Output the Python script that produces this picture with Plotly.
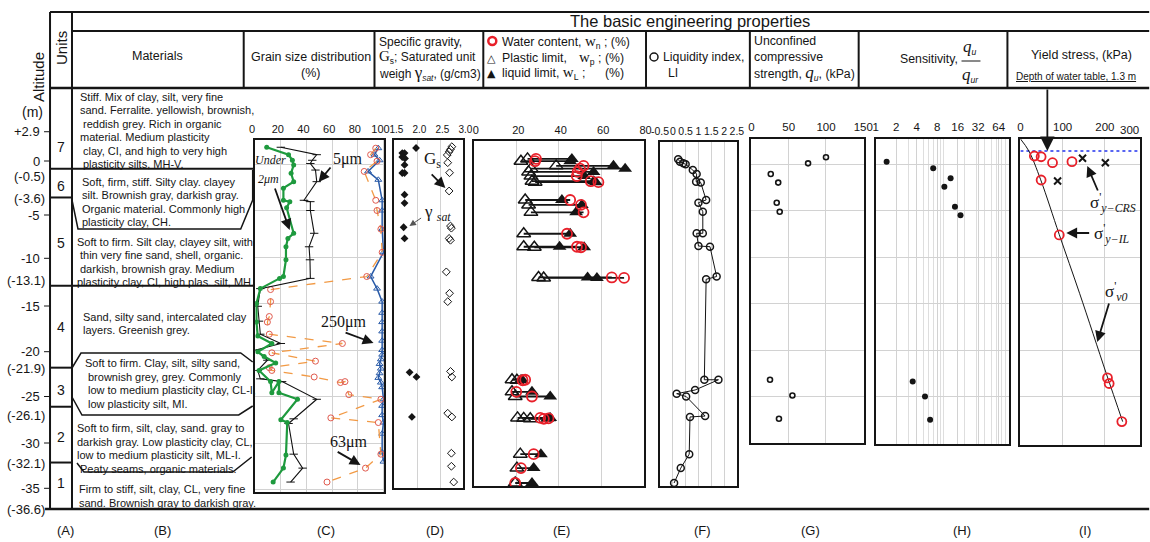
import math
import plotly.graph_objects as go

# ---------------------------------------------------------------------------
# Data (altitude in m, values read per layer)
# ---------------------------------------------------------------------------
# (C) grain size distribution, % finer than the given size
clay2_alt = [1.8, 1.0, 0.4, -0.1, -1.0, -1.9, -2.6, -3.9, -4.05, -4.7, -7.45, -8.0, -8.9, -10.3,
             -12.1, -12.3, -13.4, -15.0, -17.0, -18.5, -19.3, -20.2, -20.7, -21.4, -22.2, -23.4,
             -24.6, -23.4, -24.6, -25.3, -27.5, -27.8, -31.3, -32.7, -34.2]
clay2_pct = [9, 26, 29, 30, 28, 30, 22, 22, 27, 24.5, 30, 25.5, 24, 24,
             22, 19, 4, 1, 1, 2, 13, 2, 7, 16, 3, 12,
             13, 18.5, 18.5, 33, 20, 25, 24, 22, 14]
silt5_alt = [1.8, 1.0, 0.4, 0.05, -0.65, -1.9, -3.9, -4.05, -5.0, -7.45, -8.9, -10.3, -12.3,
             -13.4, -15.3, -16.9, -18.3, -19.3, -20.0, -21.1, -22.2, -23.1, -23.4, -25.3, -27.4,
             -27.9, -31.2, -32.7, -34.2]
silt5_pct = [20, 48, 44.5, 43, 47, 48, 38, 43, 43, 46, 42, 42.7, 43,
             4, 2, 3, 4, 20, 0.5, 9.5, 2, 4, 21, 48, 30,
             26, 30, 37, 27.6]
sand63_alt = [1.7, 1.0, 0.3, -0.8, -3.9, -5.0, -7.0, -9.5, -12.1, -13.5, -14.8, -16.4, -17.0,
              -18.3, -19.3, -20.3, -21.2, -21.9, -22.2, -22.9, -23.5, -23.4, -24.8, -25.3, -27.3,
              -27.8, -31.2, -32.7, -34.2]
sand63_pct = [94, 90, 95, 85, 94, 95, 98, 99, 87, 12, 12, 11, 9.5,
              11, 68, 13, 47, 11, 13, 46, 66.5, 70, 73, 98, 59,
              96, 98, 86, 56]
sand250_alt = [1.7, 1.0, 0.4, -0.8, -1.7, -3.9, -5.0, -7.0, -9.5, -12.1, -13.4, -14.8, -16.0,
               -17.0, -18.0, -19.0, -20.0, -20.5, -21.0, -21.5, -22.0, -22.5, -23.0, -23.5,
               -24.0, -25.3, -26.0, -27.0, -27.8, -29.0, -31.0, -32.0]
sand250_pct = [96, 93, 97, 88, 96, 99, 99, 99, 100, 90, 95, 99, 99,
               99, 99, 99, 99, 99, 98, 97, 98, 97, 96, 98,
               99, 100, 99, 99, 100, 99, 99, 100]

# (D) saturated unit weight (g/cm3) and specific gravity
gamma_alt = [1.72, 1.18, 1.18, 0.75, 0.6, -0.1, -0.97, -0.97, -3.3, -4.2, -6.8, -8.0, -22.4, -22.9, -27.2]
gamma_sat = [1.97, 1.67, 1.72, 1.67, 1.73, 1.72, 1.67, 1.72, 1.72, 1.72, 1.70, 1.72, 1.83, 1.98, 1.88]
gs_alt = [1.86, 1.58, 1.32, 0.97, 0.14, -0.94, -2.9, -6.67, -6.9, -8.0, -8.2, -11.6, -13.9, -14.8,
          -22.3, -22.9, -26.8, -27.2, -31.1, -32.5, -34.2]
gs_val = [2.75, 2.72, 2.69, 2.65, 2.66, 2.70, 2.69, 2.72, 2.74, 2.69, 2.72, 2.63, 2.70, 2.66,
          2.72, 2.75, 2.66, 2.75, 2.74, 2.74, 2.79]

# (E) Atterberg limits and natural water content (%)
atter_alt = [0.55, 0.30, -0.20, -0.50, -0.85, -1.30, -1.85, -1.95, -3.87, -4.40, -5.20, -7.50,
             -8.90, -8.95, -12.20, -12.25, -23.20, -23.25, -24.50, -25.00, -27.30, -27.35,
             -27.40, -31.20, -32.70, -34.30]
w_p = [25.3, 22.2, 38.8, 27.0, 25.8, 26.9, 27.4, 28.9, 24.2, 25.8, 26.9, 23.5,
       23.5, 28.5, 30.5, 32.9, 18.0, 20.3, 18.0, 19.5, 20.6, 23.5,
       26.6, 21.9, 20.3, 19.5]
w_n = [29.3, 28.8, 51.7, 50.0, 48.9, 48.5, 55.1, 58.7, 45.4, 50.5, 51.7, 43.9,
       48.6, 50.5, 65.0, 70.8, 24.2, 23.0, 20.0, 27.4, 31.3, 35.2,
       33.0, 28.2, 22.2, 19.5]
w_L = [46.2, 45.4, 65.8, 71.3, 56.4, 52.0, 56.5, 57.5, 41.5, 50.9, 48.2, 45.4,
       40.4, 52.0, 53.6, 58.0, 22.7, 22.0, 27.4, 36.0, 36.0, 35.5,
       34.5, 31.6, 28.2, 27.4]

# (F) liquidity index
li_alt = [0.5, 0.25, 0.07, -0.03, -0.65, -1.08, -1.9, -2.0, -3.87, -4.16, -5.13, -7.45, -7.45,
          -8.82, -8.89, -12.1, -12.4, -23.2, -23.2, -24.3, -24.7, -25.0, -27.1, -27.2, -31.2,
          -32.7, -34.3]
li_val = [0.21, 0.28, 0.41, 0.5, 0.78, 0.93, 0.91, 1.09, 1.30, 1.0, 1.17, 1.17, 0.93,
          1.0, 1.45, 1.71, 1.30, 1.23, 1.78, 0.87, 0.15, 0.52, 1.26, 0.67, 0.64,
          0.31, 0.05]

# (G) unconfined compressive strength (kPa)
qu_alt = [0.72, 0.07, -1.08, -2.0, -4.16, -5.13, -23.2, -24.9, -27.4]
qu_val = [100, 76, 26, 36, 34, 38, 25, 55, 37]

# (H) sensitivity
st_alt = [0.25, -0.46, -1.54, -2.44, -4.6, -5.5, -23.4, -25.0, -27.5]
st_val = [1.45, 7.0, 12.6, 10.2, 14.6, 17.6, 3.5, 5.3, 6.3]

# (I) yield stress and effective overburden (kPa)
il_alt = [0.86, 0.78, 0.14, 0.25, -1.72, -7.63, -23.0, -23.6, -27.7]
il_val = [33, 49, 76, 122, 49, 92, 206, 210, 240]
crs_alt = [0.61, 0.14, -1.83]
crs_val = [147, 201, 88]
sv0_alt = [2.7, 1.4, -1.7, -7.6, -13.9, -22.5, -27.7]
sv0_val = [0, 20, 48, 92, 140, 203, 242]
ground_alt = 2.7
water_table_depth = 1.3

# Stratigraphy
layer_bounds = [-0.5, -3.6, -13.1, -21.9, -26.1, -32.1]
layer_full = [True, False, True, False, False, False]
alt_ticks = [2.9, 0, -0.5, -3.6, -5, -10, -13.1, -15, -20, -21.9, -25, -26.1, -30, -32.1, -35, -36.6]
alt_text = ["+2.9", "0", "(-0.5)", "(-3.6)", "-5", "-10", "(-13.1)", "-15", "-20", "(-21.9)",
            "-25", "(-26.1)", "-30", "(-32.1)", "-35", "(-36.6)"]
unit_names = ["7", "6", "5", "4", "3", "2", "1"]
unit_text = [
    ["Stiff. Mix of clay, silt, very fine", "sand. Ferralite. yellowish, brownish,",
     " reddish grey. Rich in organic", "material. Medium plasticity",
     " clay, CI, and high to very high", " plasticity silts, MH-V."],
    ["Soft, firm, stiff. Silty clay. clayey", "silt. Brownish gray, darkish gray.",
     "Organic material. Commonly high", "plasticity clay, CH."],
    ["Soft to firm. Silt clay, clayey silt, with", " thin very fine sand, shell, organic.",
     " darkish, brownish gray. Medium", "plasticity clay, CI, high plas. silt, MH."],
    ["Sand, silty sand, intercalated clay", "layers. Greenish grey."],
    ["Soft to firm. Clay, silt, silty sand,", " brownish grey, grey. Commonly",
     " low to medium plasticity clay, CL-I,", " low plasticity silt, MI."],
    ["Soft to firm, silt, clay, sand. gray to", "darkish gray. Low plasticity clay, CL,",
     "low to medium plasticity silt, ML-I.", " Peaty seams, organic materials."],
    ["Firm to stiff, silt, clay, CL, very fine", "sand. Brownish gray to darkish gray."],
]
col_letters = ["(A)", "(B)", "(C)", "(D)", "(E)", "(F)", "(G)", "(H)", "(I)"]

# Axis tick labels
c_ticks = [0, 20, 40, 60, 80, 100]
d_ticks = [1.5, 2.0, 2.5, 3.0]
d_text = ["1.5", "2.0", "2.5", "3.0"]
e_ticks = [0, 20, 40, 60, 80]
f_ticks = [-0.5, 0, 0.5, 1, 1.5, 2, 2.5]
f_text = ["-0.5", "0", "0.5", "1", "1.5", "2", "2.5"]
g_ticks = [0, 50, 100, 150]
h_ticks = [1, 2, 4, 8, 16, 32, 64]
i_ticks = [0, 100, 200]
i_last_tick = "300"

# ---------------------------------------------------------------------------
# Geometry helpers
# ---------------------------------------------------------------------------
SANS = "Liberation Sans, Arial, sans-serif"
SERIF = "Liberation Serif, Times New Roman, serif"
INK = "#151515"
GRID = "#d2d2d2"
FIG_W, FIG_H = 1150, 542
PX_PER_M = 9.3      # vertical scale shared by the table and all panels
ALT0_PX = 164.0     # pixel row of altitude 0 m
X_SCALE, X_OFF = 0.986, 7.9   # horizontal layout frame of the page


def alt_of(ypx):
    return (ALT0_PX - ypx) / PX_PER_M


def fx(x):
    return (x - X_OFF) / X_SCALE / FIG_W


def fy(y):
    return 1 - y / FIG_H


fig = go.Figure()
layout_axes = {}


def add_panel(n, box, xrange, tickvals, ticktext, xtype="linear", vgrid=True, hgrid=(),
              minor=None, tick_size=11.5, shift=0):
    l, r, t, b = box
    d0, d1 = fx(l), fx(r)
    if d1 > 0.999 and xtype == "linear":
        xrange = [xrange[0], xrange[0] + (xrange[1] - xrange[0]) * (0.999 - d0) / (d1 - d0)]
        d1 = 0.999
    sid = "" if n == 1 else str(n)
    xa = dict(domain=[d0, d1], range=xrange, type=xtype, side="top", anchor="y" + sid,
              tickmode="array", tickvals=tickvals, ticktext=ticktext, ticks="", tickangle=0,
              showgrid=vgrid, gridcolor=GRID, gridwidth=1, zeroline=False,
              showline=True, mirror=True, linecolor=INK, linewidth=2,
              tickfont=dict(family=SANS, size=tick_size, color=INK), ticklabelstandoff=1,
              ticklabelshift=shift)
    if minor:
        xa["minor"] = minor
    ya = dict(domain=[fy(b), fy(t)], range=[alt_of(b), alt_of(t)], anchor="x" + sid,
              tickmode="array", tickvals=list(hgrid), showticklabels=False, ticks="",
              showgrid=bool(hgrid), gridcolor=GRID, gridwidth=1, zeroline=False,
              showline=True, mirror=True, linecolor=INK, linewidth=2)
    layout_axes["xaxis" + sid] = xa
    layout_axes["yaxis" + sid] = ya
    return "x" + sid, "y" + sid


grid5 = [0, -5, -10, -15, -20, -25, -30, -35]
xC, yC = add_panel(1, (254.5, 384, 140, 492), [0, 100.8], c_ticks, [str(v) for v in c_ticks],
                   hgrid=grid5, tick_size=11, shift=-3)
xD, yD = add_panel(2, (394, 463, 140, 488), [1.5, 3.0], d_ticks, d_text, tick_size=10, shift=2)
xE, yE = add_panel(3, (473.5, 644, 141, 486), [0, 80.2], e_ticks, [str(v) for v in e_ticks],
                   tick_size=11, shift=2)
xF, yF = add_panel(4, (660, 737, 142, 486), [-0.5, 2.5], f_ticks, f_text, tick_size=10.5)
xG, yG = add_panel(5, (751.5, 864, 139, 443), [0, 150.5], g_ticks, [str(v) for v in g_ticks],
                   hgrid=grid5[:6])
xH, yH = add_panel(6, (876, 1010, 139, 444), [0, math.log10(92)], h_ticks,
                   [str(v) for v in h_ticks], xtype="log", hgrid=grid5[:6],
                   minor=dict(tickvals=[3, 5, 6, 7, 9, 10, 20, 30, 40, 50, 60, 70, 80, 90],
                              showgrid=True, gridcolor="#dedede", gridwidth=1, ticks=""))
xI, yI = add_panel(7, (1021, 1148, 139, 445), [0, 300], i_ticks, [str(v) for v in i_ticks],
                   hgrid=grid5[:6])

# hidden altitude frame for the stratigraphic columns
layout_axes["xaxis8"] = dict(domain=[0, 1], range=[0, 1], visible=False, anchor="y8")
layout_axes["yaxis8"] = dict(domain=[0, 1], range=[alt_of(FIG_H), alt_of(0)], visible=False,
                             anchor="x8")

# ---------------------------------------------------------------------------
# Traces
# ---------------------------------------------------------------------------
fig.add_trace(go.Scatter(x=sand250_pct, y=sand250_alt, xaxis=xC, yaxis=yC, mode="lines+markers",
                         line=dict(color="#2a5ba8", width=1.5),
                         marker=dict(symbol="triangle-up-open", size=6, color="#2a5ba8",
                                     line=dict(width=1))))
fig.add_trace(go.Scatter(x=sand63_pct, y=sand63_alt, xaxis=xC, yaxis=yC, mode="lines+markers",
                         line=dict(color="#f29a45", width=1.3, dash="dash"),
                         marker=dict(symbol="circle-open", size=6, color="#e05a4e",
                                     line=dict(width=1))))
fig.add_trace(go.Scatter(x=silt5_pct, y=silt5_alt, xaxis=xC, yaxis=yC, mode="lines+markers",
                         line=dict(color="#111111", width=1.1),
                         marker=dict(symbol="line-ew-open", size=6, color="#111111",
                                     line=dict(width=1))))
fig.add_trace(go.Scatter(x=clay2_pct, y=clay2_alt, xaxis=xC, yaxis=yC, mode="lines+markers",
                         line=dict(color="#1e9a3e", width=2.2),
                         marker=dict(symbol="circle", size=5, color="#1e9a3e")))

fig.add_trace(go.Scatter(x=gamma_sat, y=gamma_alt, xaxis=xD, yaxis=yD, mode="markers",
                         marker=dict(symbol="diamond", size=6, color=INK)))
fig.add_trace(go.Scatter(x=gs_val, y=gs_alt, xaxis=xD, yaxis=yD, mode="markers",
                         marker=dict(symbol="diamond-open", size=6, color=INK,
                                     line=dict(width=1))))

conn_x, conn_y = [], []
for a, p, n_, l_ in zip(atter_alt, w_p, w_n, w_L):
    conn_x += [min(p, n_, l_), max(p, n_, l_), None]
    conn_y += [a, a, None]
fig.add_trace(go.Scatter(x=conn_x, y=conn_y, xaxis=xE, yaxis=yE, mode="lines",
                         line=dict(color=INK, width=1.8)))
fig.add_trace(go.Scatter(x=w_p, y=atter_alt, xaxis=xE, yaxis=yE, mode="markers",
                         marker=dict(symbol="triangle-up-open", size=12, color=INK,
                                     line=dict(width=1.5))))
fig.add_trace(go.Scatter(x=w_L, y=atter_alt, xaxis=xE, yaxis=yE, mode="markers",
                         marker=dict(symbol="triangle-up", size=12, color=INK)))
fig.add_trace(go.Scatter(x=w_n, y=atter_alt, xaxis=xE, yaxis=yE, mode="markers",
                         marker=dict(symbol="circle-open", size=10, color="#e8202a",
                                     line=dict(width=1.8))))

fig.add_trace(go.Scatter(x=li_val, y=li_alt, xaxis=xF, yaxis=yF, mode="lines+markers",
                         line=dict(color=INK, width=1),
                         marker=dict(symbol="circle-open", size=7, color=INK,
                                     line=dict(width=1.5))))

fig.add_trace(go.Scatter(x=qu_val, y=qu_alt, xaxis=xG, yaxis=yG, mode="markers",
                         marker=dict(symbol="circle-open", size=5, color=INK,
                                     line=dict(width=1.6))))

fig.add_trace(go.Scatter(x=st_val, y=st_alt, xaxis=xH, yaxis=yH, mode="markers",
                         marker=dict(symbol="circle", size=6, color=INK)))

wt_alt = ground_alt - water_table_depth
fig.add_trace(go.Scatter(x=[0, 300], y=[wt_alt, wt_alt], xaxis=xI, yaxis=yI, mode="lines",
                         line=dict(color="#2233ee", width=1.5, dash="dot")))
fig.add_trace(go.Scatter(x=sv0_val, y=sv0_alt, xaxis=xI, yaxis=yI, mode="lines",
                         line=dict(color=INK, width=1, shape="spline")))
fig.add_trace(go.Scatter(x=il_val, y=il_alt, xaxis=xI, yaxis=yI, mode="markers",
                         marker=dict(symbol="circle-open", size=9, color="#e8202a",
                                     line=dict(width=1.8))))
fig.add_trace(go.Scatter(x=crs_val, y=crs_alt, xaxis=xI, yaxis=yI, mode="markers",
                         marker=dict(symbol="x-thin-open", size=7, color=INK,
                                     line=dict(width=2))))

# stratigraphy boundaries on the hidden altitude frame
bx, by = [], []
for a, full in zip(layer_bounds, layer_full):
    bx += [fx(49), fx(254 if full else 71), None]
    by += [a, a, None]
fig.add_trace(go.Scatter(x=bx, y=by, xaxis="x8", yaxis="y8", mode="lines",
                         line=dict(color=INK, width=2), hoverinfo="skip"))

# ---------------------------------------------------------------------------
# Table frame, headers and labels
# ---------------------------------------------------------------------------
shapes = []
annotations = []


def seg(x0, y0, x1, y1, w=2, color=INK):
    shapes.append(dict(type="line", xref="paper", yref="paper", x0=fx(x0), y0=fy(y0),
                       x1=fx(x1), y1=fy(y1), line=dict(color=color, width=w)))


def poly(points, w=1.5):
    d = "M " + " L ".join(f"{fx(x):.5f},{fy(y):.5f}" for x, y in points)
    shapes.append(dict(type="path", xref="paper", yref="paper", path=d,
                       line=dict(color=INK, width=w)))


def label(x, y, text, size=12.5, family=SANS, xanchor="center", yanchor="middle", angle=0,
          color=INK):
    annotations.append(dict(xref="paper", yref="paper", x=fx(x), y=fy(y), text=text,
                            showarrow=False, xanchor=xanchor, yanchor=yanchor, textangle=angle,
                            font=dict(family=family, size=size, color=color)))


def arrow(tip_x, tip_y, tail_x, tail_y, width=1.5, size=1.3, color=INK):
    annotations.append(dict(xref="paper", yref="paper", x=fx(tip_x), y=fy(tip_y),
                            ax=(tail_x - tip_x) / X_SCALE, ay=tail_y - tip_y,
                            axref="pixel", ayref="pixel",
                            text="", showarrow=True, arrowhead=2, arrowsize=size,
                            arrowwidth=width, arrowcolor=color, standoff=0))


# outer grid of the table
RIGHT = 1150
seg(49, 12, RIGHT, 12)
seg(71, 31, RIGHT, 31)
seg(49, 88, RIGHT, 88, w=2.5)
seg(49, 12, 49, 509)
seg(71, 12, 71, 509)
seg(44, 509, RIGHT, 509, w=2.5)
for xs in [243, 374, 483, 646, 750, 859, 1008]:
    seg(xs, 31, xs, 88)

# bordered description boxes
poly([(71, 200), (77, 229), (240, 229), (252, 200), (252, 170)])
poly([(71, 368), (80, 353), (240, 353), (252, 362)])
poly([(71, 397), (81, 415), (238, 415), (252, 406)])
poly([(76, 463), (83, 472), (232, 472), (251, 457)])

# altitude scale
alt_nudge = [-5.3, -3, 8, 0.8, 4.5, 1.3, -5.8, 2.5, 1.7, 0.6, 0, 8.3, 0, 0.8, -1.2, 4.9]
for a, t, nd in zip(alt_ticks, alt_text, alt_nudge):
    plain = not t.startswith("(")
    annotations.append(dict(xref="x8", yref="y8", x=fx(41 if plain else 45.5), y=a, yshift=-nd,
                            text=t, showarrow=False, xanchor="right", yanchor="middle",
                            font=dict(family=SANS, size=13, color=INK)))
    if plain:
        ypx = ALT0_PX - PX_PER_M * a + nd
        seg(43, ypx, 48, ypx, w=1)

label(38, 77, "Altitude", size=15, angle=-90)
label(60, 48, "Units", size=15, angle=-90)
label(31, 112, "(m)", size=14)

unit_y = [147, 186, 243, 327, 390, 437, 483]
for name, yy in zip(unit_names, unit_y):
    label(60, yy, name, size=14)

text_top = [97, 181.7, 241.7, 316.7, 363.3, 428.3, 489.3]
text_left = [77, 79, 74, 80, 82, 74, 76]
for lines, y0, x0 in zip(unit_text, text_top, text_left):
    for k, ln in enumerate(lines):
        xs = x0 + (3 if ln.startswith(" ") else 0)
        label(xs, y0 + 13.4 * k, ln.strip(), size=11, xanchor="left")

# header texts
label(690, 21, "The basic engineering properties", size=16.5)
label(157, 56, "Materials", size=12.5)
label(310, 57, "Grain size distribution", size=12.5)
label(310, 73, "(%)", size=12.5)

sv = lambda s, size=15: f"<span style='font-family:{SERIF};font-size:{size}px'>{s}</span>"
label(377, 42, "Specific gravity,", size=12, xanchor="left")
label(377, 57, sv("G") + "<sub>s</sub>; Saturated unit", size=12, xanchor="left")
label(377, 73, "weigh " + sv("γ", 17) + "<sub><i>sat</i></sub>, (g/cm3)", size=12, xanchor="left")

shapes.append(dict(type="circle", xref="paper", yref="paper", x0=fx(488), x1=fx(496),
                   y0=fy(37), y1=fy(45), line=dict(color="#e8202a", width=2.5)))
label(491, 58, "△", size=11, family="DejaVu Sans")
label(491, 73, "▲", size=11, family="DejaVu Sans")
label(500, 42, "Water content, " + sv("w") + "<sub>n</sub> ; (%)", size=12.3, xanchor="left")
label(500, 58, "Plastic limit,", size=12.3, xanchor="left")
label(626, 58, sv("w") + "<sub>p</sub> ; (%)", size=12.3, xanchor="right")
label(500, 73, "liquid limit, " + sv("w") + "<sub>L</sub> ;", size=12.3, xanchor="left")
label(626, 73, "(%)", size=12.3, xanchor="right")

shapes.append(dict(type="circle", xref="paper", yref="paper", x0=fx(650), x1=fx(658),
                   y0=fy(53), y1=fy(61), line=dict(color=INK, width=1.5)))
label(661, 57, "Liquidity index,", size=12.3, xanchor="left")
label(666, 73, "LI", size=12.3, xanchor="left")

label(752, 41, "Unconfined", size=12.3, xanchor="left")
label(752, 57, "compressive", size=12.3, xanchor="left")
label(752, 73, "strength, " + sv("<i>q</i>", 17) + "<sub><i>u</i></sub>, (kPa)", size=12.3,
      xanchor="left")

label(960, 59, "Sensitivity,", size=12.3, xanchor="right")
label(971, 47, sv("<i>q</i>", 17) + "<sub><i>u</i></sub>", size=12.3)
seg(962, 61, 981, 61, w=1)
label(971, 75, sv("<i>q</i>", 17) + "<sub><i>ur</i></sub>", size=12.3)

label(1082, 55, "Yield stress, (kPa)", size=12.5)
label(1077, 76, "<u>Depth of water table, 1.3 m</u>", size=10)

# last yield-stress tick label sits against the right edge
label(1141.5, 130, i_last_tick, size=11.5, xanchor="right")

# column letters
letter_x = [64, 162, 325, 435, 561, 703, 811, 962, 1086]
for t, xx in zip(col_letters, letter_x):
    label(xx, 530, t, size=13)

# callouts inside panels
label(270, 160, "<i>Under</i>", size=12, family=SERIF)
label(268, 179, "<i>2μm</i>", size=12, family=SERIF)
arrow(289, 230, 274, 187, width=1.8, size=1.2)
label(347, 159, "5μm", size=16, family=SERIF)
arrow(318, 182, 331, 166, width=1.8, size=1.2)
label(343, 322, "250μm", size=16, family=SERIF)
arrow(373, 343, 344, 332, width=1.8, size=1.2)
label(348, 442, "63μm", size=16, family=SERIF)
arrow(360, 465, 336, 451, width=1.8, size=1.2)

label(432, 160, "G<sub>s</sub>", size=17, family=SERIF)
arrow(445, 188, 430, 173, width=1.8, size=1.2)
label(437, 213, "γ <sub><i>sat</i></sub>", size=17, family=SERIF)
arrow(409, 226, 422, 217, width=1, size=1.3, color="#555555")

arrow(1048, 151, 1048, 88, width=1.8, size=1.6)
label(1114, 203, "σ<sup>'</sup><sub><i>y−CRS</i></sub>", size=17, family=SERIF)
arrow(1088, 166, 1099, 192, width=1.8, size=1.2)
label(1113, 233, "σ<sup>'</sup><sub><i>y−IL</i></sub>", size=17, family=SERIF)
arrow(1067, 233, 1091, 233, width=1.8, size=1.2)
label(1117, 291, "σ<sup>'</sup><sub><i>v0</i></sub>", size=17, family=SERIF)
arrow(1098, 342, 1110, 302, width=1.8, size=1.2)

fig.update_layout(
    width=FIG_W, height=FIG_H, autosize=False, margin=dict(l=0, r=0, t=0, b=0, pad=0),
    paper_bgcolor="white", plot_bgcolor="rgba(0,0,0,0)", showlegend=False,
    shapes=shapes, annotations=annotations, **layout_axes,
)

# a static figure: no drag handles or mode bar around the panels
fig.write_html("out.html", config={"staticPlot": True})
